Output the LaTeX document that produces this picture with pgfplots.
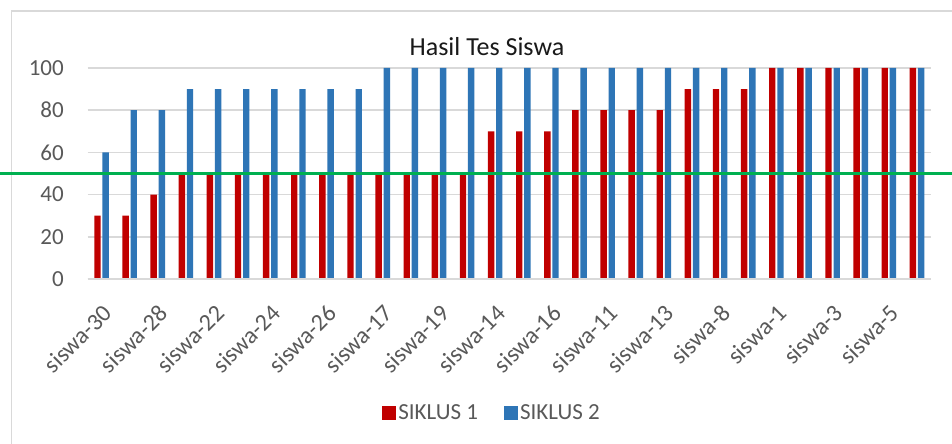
\documentclass[border=0pt]{standalone}
\usepackage{pgfplots}
\pgfplotsset{compat=1.18}
\usepackage{fontspec}
\setmainfont{Carlito}
\definecolor{sred}{HTML}{C00000}
\definecolor{sblue}{HTML}{2E75B6}
\definecolor{gridc}{HTML}{D9D9D9}
\definecolor{txt}{HTML}{595959}
\definecolor{lgreen}{HTML}{00B050}
\begin{document}
\begin{tikzpicture}
\useasboundingbox (0,0) rectangle (952bp,444bp);
\fill[white] (0,0) rectangle (952bp,444bp);
\draw[gridc, line width=1.2bp] (11.5bp,-10bp) |- (970bp,433bp);
\begin{axis}[
  at={(87.5bp,165bp)}, anchor=south west,
  scale only axis, width=843.5bp, height=211bp,
  xmin=0.5, xmax=30.5, ymin=0, ymax=100,
  ybar=1.8bp, bar width=6.4bp,
  clip=false,
  axis line style={draw=none},
  axis x line*=bottom,
  ytick={0,20,...,100},
  xtick={1,3,...,29},
  xticklabels={siswa-30,siswa-28,siswa-22,siswa-24,siswa-26,siswa-17,siswa-19,siswa-14,siswa-16,siswa-11,siswa-13,siswa-8,siswa-1,siswa-3,siswa-5},
  major tick length=0pt,
  ymajorgrids, grid style={gridc, line width=1.5bp},
  /pgf/number format/assume math mode=true,
  yticklabel style={font=\fontsize{23bp}{26bp}\selectfont, text=txt, inner sep=0pt, anchor=east, xshift=-23.5bp},
  xticklabel style={font=\fontsize{24bp}{26bp}\selectfont, text=txt, inner sep=0pt, xshift=0bp, yshift=-24bp, rotate=45, anchor=north east},
  legend columns=2,
  legend style={draw=none, fill=none, at={(0.4796,-0.635)}, anchor=center,
    font=\fontsize{23bp}{26bp}\selectfont, text=txt,
    /tikz/every even column/.append style={column sep=24bp}},
  legend image code/.code={\fill[#1] (0bp,-7bp) rectangle (14bp,7bp);},
]
\addplot[fill=sred, draw=none] coordinates {
(1,30)(2,30)(3,40)(4,50)(5,50)(6,50)(7,50)(8,50)(9,50)(10,50)
(11,50)(12,50)(13,50)(14,50)(15,70)(16,70)(17,70)(18,80)(19,80)(20,80)
(21,80)(22,90)(23,90)(24,90)(25,100)(26,100)(27,100)(28,100)(29,100)(30,100)};
\addplot[fill=sblue, draw=none] coordinates {
(1,60)(2,80)(3,80)(4,90)(5,90)(6,90)(7,90)(8,90)(9,90)(10,90)
(11,100)(12,100)(13,100)(14,100)(15,100)(16,100)(17,100)(18,100)(19,100)(20,100)
(21,100)(22,100)(23,100)(24,100)(25,100)(26,100)(27,100)(28,100)(29,100)(30,100)};
\legend{SIKLUS 1, SIKLUS 2}
\draw[gridc, line width=1.5bp] (axis cs:0.5,0) -- (axis cs:30.5,0);
\addplot[sharp plot, lgreen, line width=3bp, forget plot] coordinates {(-3.5,50) (32,50)};
\end{axis}
\node[anchor=base, font=\fontsize{26bp}{30bp}\selectfont, text=black!90] at (487bp,388bp) {Hasil Tes Siswa};
\end{tikzpicture}
\end{document}
